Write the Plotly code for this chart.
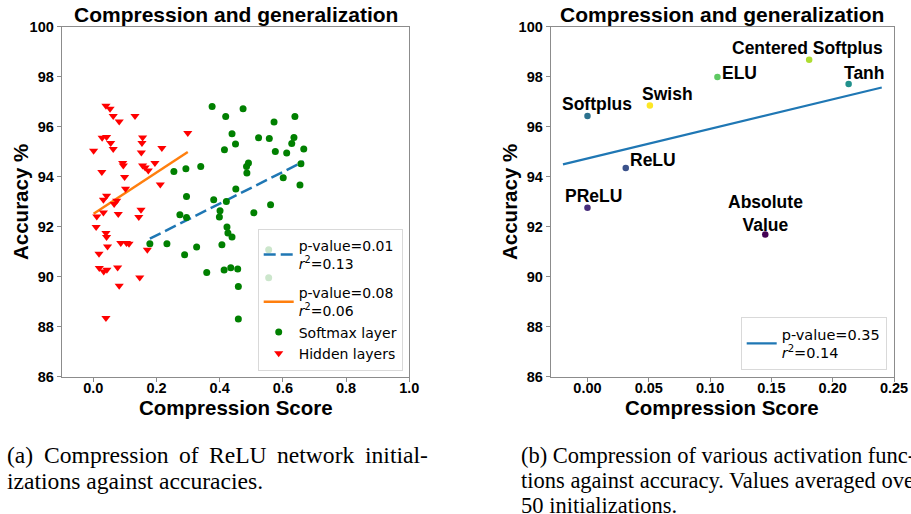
import plotly.graph_objects as go

# ---------------- Left panel data (ReLU initializations) ----------------
hidden_x = [0.040, 0.053, 0.063, 0.082, 0.132, 0.028, 0.042, 0.055, 0.063, 0.001,
            0.156, 0.154, 0.152, 0.217, 0.299, 0.093, 0.095, 0.156, 0.164, 0.174,
            0.195, 0.027, 0.099, 0.102, 0.212, 0.042, 0.032, 0.074, 0.066, 0.151,
            0.011, 0.032, 0.079, 0.144, 0.009, 0.040, 0.042, 0.045, 0.087, 0.105,
            0.113, 0.171, 0.018, 0.019, 0.033, 0.043, 0.077, 0.147, 0.082, 0.040]
hidden_y = [96.84, 96.72, 96.43, 96.21, 96.43, 95.56, 95.59, 95.35, 95.11, 95.04,
            95.57, 95.35, 94.97, 95.15, 95.75, 94.55, 94.45, 94.45, 94.37, 94.25,
            94.55, 94.19, 93.99, 93.52, 93.69, 93.24, 93.08, 93.04, 92.91, 92.68,
            92.41, 92.57, 92.51, 92.39, 91.99, 91.75, 91.59, 91.21, 91.35, 91.35,
            91.32, 91.08, 90.92, 90.35, 90.21, 90.28, 90.37, 89.97, 89.64, 88.35]

softmax_x = [0.376, 0.474, 0.419, 0.439, 0.450, 0.415, 0.523, 0.491, 0.485, 0.486,
             0.340, 0.293, 0.255, 0.451, 0.295, 0.381, 0.421, 0.638, 0.572, 0.557,
             0.635, 0.628, 0.666, 0.576, 0.612, 0.657, 0.601, 0.654, 0.561, 0.401,
             0.399, 0.508, 0.423, 0.426, 0.439, 0.274, 0.295, 0.179, 0.233, 0.407,
             0.289, 0.327, 0.359, 0.414, 0.435, 0.457, 0.459, 0.459, 0.555, 0.555]
softmax_y = [96.81, 96.72, 96.41, 95.72, 95.31, 95.08, 95.56, 94.55, 94.41, 94.15,
             94.41, 94.32, 94.21, 93.51, 93.21, 93.08, 93.01, 96.41, 96.19, 95.53,
             95.57, 95.33, 95.11, 95.01, 94.95, 94.52, 93.96, 93.67, 92.88, 92.64,
             92.39, 92.56, 91.99, 91.75, 91.59, 92.48, 92.37, 91.32, 91.32, 91.28,
             90.88, 91.19, 90.17, 90.27, 90.36, 90.31, 89.61, 88.31, 91.08, 89.96]

# regression fits (slope, intercept) and legend texts
softmax_fit = [6.345, 90.384]
hidden_fit = [8.29, 92.51]
softmax_fit_label = "p-value=0.01<br><i>r</i><sup>2</sup>=0.13"
hidden_fit_label = "p-value=0.08<br><i>r</i><sup>2</sup>=0.06"

# ---------------- Right panel data (activation functions) ----------------
act_names = ["Softplus", "Swish", "ReLU", "PReLU", "ELU",
             "Centered Softplus", "Tanh", "Absolute<br>Value"]
act_x = [0.000, 0.0509, 0.0312, 0.000, 0.1060, 0.1808, 0.2130, 0.1450]
act_y = [96.43, 96.85, 94.35, 92.76, 97.99, 98.68, 97.71, 91.69]
act_colors = ["#2c728e", "#fde725", "#3b528b", "#472d7b", "#5ec962",
              "#addc30", "#21918c", "#440154"]
act_fit = [11.82, 94.73]
act_fit_range = [-0.02, 0.24]
act_fit_label = "p-value=0.35<br><i>r</i><sup>2</sup>=0.14"

# label offsets (pixels) for each activation annotation
label_shift = [(10, 12), (18, 11), (27, 8), (6, 12), (22, 4), (-2, 12), (16, 11), (0, 21)]

# captions: (text, justified width in px or None)
caption_a = [("(a) Compression of ReLU network initial-", 421),
             ("izations against accuracies.", None)]
caption_b = [("(b) Compression of various activation func-", None),
             ("tions against accuracy. Values averaged over", None),
             ("50 initializations.", None)]

W, H = 911, 514


def fit_line(fit, xs):
    return [fit[0] * x + fit[1] for x in xs]


fig = go.Figure()

# Left panel
sx = [min(softmax_x), max(softmax_x)]
hx = [min(hidden_x), max(hidden_x)]
fig.add_trace(go.Scatter(x=sx, y=fit_line(softmax_fit, sx), mode="lines",
                         line=dict(color="#1f77b4", width=2.5, dash="12px,5px"),
                         name=softmax_fit_label, legendgroup="a",
                         xaxis="x", yaxis="y"))
fig.add_trace(go.Scatter(x=hx, y=fit_line(hidden_fit, hx), mode="lines",
                         line=dict(color="#ff7f0e", width=2.5),
                         name=hidden_fit_label, legendgroup="b",
                         xaxis="x", yaxis="y"))
fig.add_trace(go.Scatter(x=softmax_x, y=softmax_y, mode="markers",
                         marker=dict(color="green", size=7, symbol="circle"),
                         name="Softmax layer", legendgroup="b",
                         xaxis="x", yaxis="y"))
fig.add_trace(go.Scatter(x=hidden_x, y=hidden_y, mode="markers",
                         marker=dict(color="red", size=8, symbol="triangle-down"),
                         name="Hidden layers", legendgroup="b",
                         xaxis="x", yaxis="y"))

# Right panel
fig.add_trace(go.Scatter(x=act_x, y=act_y, mode="markers",
                         marker=dict(color=act_colors, size=6.5),
                         showlegend=False, xaxis="x2", yaxis="y2"))
fig.add_trace(go.Scatter(x=act_fit_range, y=fit_line(act_fit, act_fit_range),
                         mode="lines", line=dict(color="#1f77b4", width=2.2),
                         name=act_fit_label, legend="legend2",
                         xaxis="x2", yaxis="y2"))

tickfont = dict(family="Liberation Sans, Arial, sans-serif", size=14.5,
                color="black", weight="bold")
axis_common = dict(showline=True, mirror=True, linecolor="#8c8c8c", linewidth=1,
                   ticks="outside", ticklen=4, tickcolor="#8c8c8c", tickwidth=1,
                   showgrid=False, zeroline=False, tickfont=tickfont,
                   automargin=False)

ytop, ybot = 26.7, 376.7
ydom = [(H - ybot) / H, (H - ytop) / H]
xdom1 = [61.7 / W, 409.3 / W]
xdom2 = [550.7 / W, 894.0 / W]

annotations = []
for i, name in enumerate(act_names):
    dx, dy = label_shift[i]
    annotations.append(dict(x=act_x[i], y=act_y[i], xref="x2", yref="y2",
                            text=name, showarrow=False, xshift=dx, yshift=dy,
                            xanchor="center", yanchor="middle",
                            font=dict(family="Liberation Sans, Arial", size=17.5,
                                      color="black", weight="bold")))

bold = dict(family="Liberation Sans, Arial", color="black", weight="bold")
for dom in (xdom1, xdom2):
    cx = (dom[0] + dom[1]) / 2
    annotations.append(dict(x=cx, y=(H - 14) / H, xref="paper", yref="paper",
                            xanchor="center", yanchor="middle",
                            text="Compression and generalization", showarrow=False,
                            font=dict(size=21, **bold)))
    annotations.append(dict(x=cx, y=(H - 407) / H, xref="paper", yref="paper",
                            xanchor="center", yanchor="middle",
                            text="Compression Score", showarrow=False,
                            font=dict(size=20.5, **bold)))
for xc in (20, 509):
    annotations.append(dict(x=xc / W, y=(H - 202) / H, xref="paper", yref="paper",
                            xanchor="center", yanchor="middle",
                            text="Accuracy %", showarrow=False, textangle=-90,
                            font=dict(size=20.5, **bold)))

# --- captions (Times-like serif, first line of (a) justified) ---
times_w = {c: w for c, w in zip("abcdefghijklmnopqrstuvwxyz",
                                [444, 500, 444, 500, 444, 333, 500, 500, 278, 278, 500,
                                 278, 778, 500, 500, 500, 500, 333, 389, 278, 500, 500,
                                 722, 500, 500, 444])}
times_w.update({"C": 667, "L": 611, "R": 667, "U": 722, "V": 722, "(": 333,
                ")": 333, ".": 250, "-": 333, " ": 250})
for d in "0123456789":
    times_w[d] = 500


def text_w(s, size):
    return sum(times_w.get(c, 500) for c in s) / 1000.0 * size


def add_caption(lines, x0, y0, dy, size):
    font = dict(family="Liberation Serif, Times New Roman, serif", size=size,
                color="black")
    for j, (line, width) in enumerate(lines):
        yy = (H - (y0 + dy * j)) / H
        if width is None:
            annotations.append(dict(x=x0 / W, y=yy, xref="paper", yref="paper",
                                    xanchor="left", yanchor="middle", text=line,
                                    showarrow=False, font=font))
            continue
        words = line.split(" ")
        natural = sum(text_w(w, size) for w in words)
        gap = (width - natural) / (len(words) - 1)
        pos = x0
        for w in words:
            annotations.append(dict(x=pos / W, y=yy, xref="paper", yref="paper",
                                    xanchor="left", yanchor="middle", text=w,
                                    showarrow=False, font=font))
            pos += text_w(w, size) + gap


add_caption(caption_a, 5, 455, 26, 23.6)
add_caption(caption_b, 519, 455, 25, 22.5)

legend_font = dict(family="DejaVu Sans, sans-serif", size=14, color="black")
fig.update_layout(
    width=W, height=H, margin=dict(l=0, r=0, t=0, b=0, autoexpand=False),
    paper_bgcolor="white", plot_bgcolor="white",
    xaxis=dict(domain=xdom1, range=[-0.1, 1.0], tick0=0, dtick=0.2,
               tickformat=".1f", anchor="y", ticklabelstandoff=-6, **axis_common),
    yaxis=dict(domain=ydom, range=[86, 100], dtick=2, anchor="x", **axis_common),
    xaxis2=dict(domain=xdom2, range=[-0.03, 0.25], tick0=0, dtick=0.05,
                tickformat=".2f", anchor="y2", ticklabelstandoff=-6, **axis_common),
    yaxis2=dict(domain=ydom, range=[86, 100], dtick=2, anchor="x2", **axis_common),
    legend=dict(x=402.7 / W, y=(H - 370.7) / H, xanchor="right", yanchor="bottom",
                bgcolor="rgba(255,255,255,0.8)", bordercolor="#d9d9d9", borderwidth=1,
                font=legend_font, tracegroupgap=8, traceorder="grouped"),
    legend2=dict(x=886.7 / W, y=(H - 370) / H, xanchor="right", yanchor="bottom",
                 bgcolor="rgba(255,255,255,0.8)", bordercolor="#d9d9d9", borderwidth=1,
                 font=dict(family="DejaVu Sans, sans-serif", size=14.5, color="black")),
    annotations=annotations,
    showlegend=True,
)

fig.write_html("out.html", config={"displayModeBar": False},
               post_script="document.body.style.margin='0';"
                           "document.body.style.overflow='hidden';")
